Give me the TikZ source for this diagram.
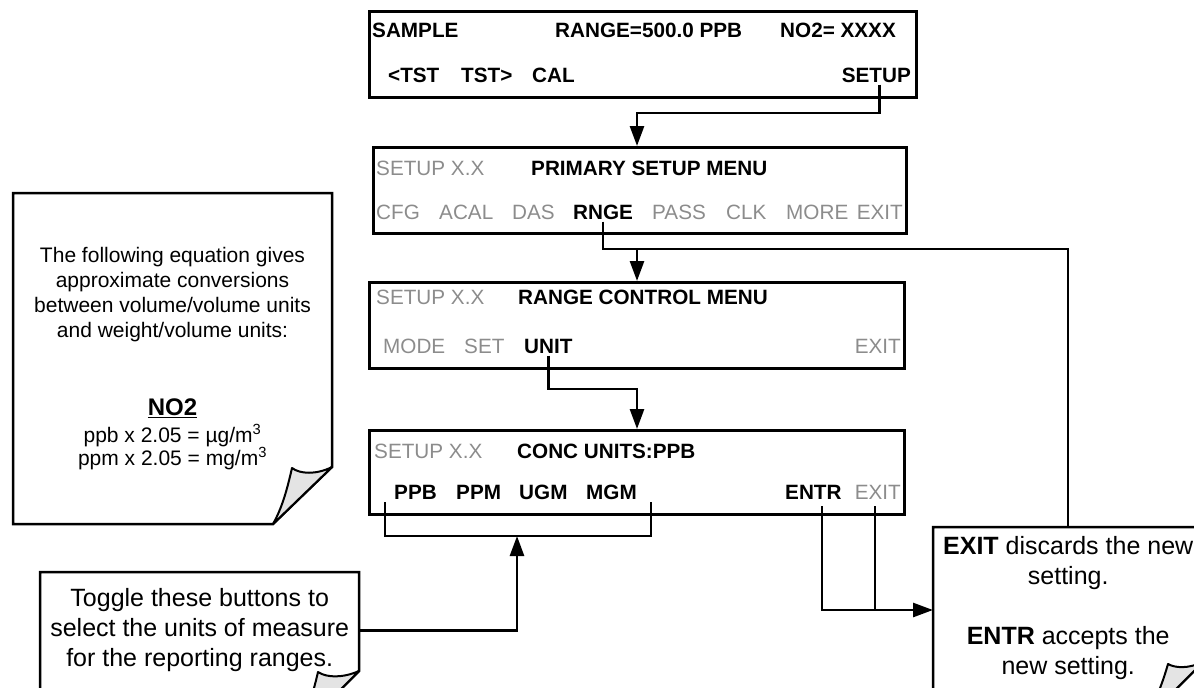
\documentclass[tikz,border=0pt]{standalone}
\usepackage{fontspec}
\setmainfont{Liberation Sans}
\usetikzlibrary{arrows.meta}
\definecolor{lcdgray}{RGB}{140,140,140}
\definecolor{flapgray}{RGB}{228,228,228}
\newcommand{\boxfs}{\fontsize{20.7}{24}\selectfont}
\newcommand{\notefs}{\fontsize{21}{25}\selectfont}
\newcommand{\smallnotefs}{\fontsize{21}{23}\selectfont}
\newcommand{\headfs}{\fontsize{24}{28}\selectfont}
\newcommand{\bigfs}{\fontsize{25}{30}\selectfont}
\begin{document}
\begin{tikzpicture}[x=1pt,y=-1pt,
  lcd/.style={draw, line width=2.7pt, inner sep=0pt, anchor=north west},
  bt/.style={font=\boxfs\bfseries, inner sep=0pt, anchor=west, text height=15pt, text depth=0pt},
  gt/.style={font=\boxfs, text=lcdgray, inner sep=0pt, anchor=west, text height=15pt, text depth=0pt},
  wire/.style={line width=2.7pt},
  arr/.style={wire, -{Triangle[length=20pt,width=14pt]}},
  note/.style={draw, line width=2.5pt, fill=white, line join=miter},
  flap/.style={draw, line width=2pt, fill=flapgray, line join=round},
  holder/.style={inner sep=0pt, anchor=north west},
]
\path[use as bounding box, clip] (0,0) rectangle (1194,688);

% ---- note outlines ----
\draw[note] (13,193) -- (332,193) -- (332,467) -- (273,524) -- (13,524) -- cycle;
\draw[flap] (332,467) .. controls (316,475) and (300,474) .. (292,468)
            .. controls (287,490) and (282,508) .. (273,524) -- cycle;
\draw[note] (40,572) -- (359,572) -- (359,671) -- (300,730) -- (40,730) -- cycle;
\draw[flap] (359,671) .. controls (343,678) and (327,678) .. (318,672)
            .. controls (313,694) and (307,712) .. (300,730) -- cycle;
\draw[note] (933,527) -- (1203,527) -- (1203,662) -- (1145,720) -- (933,720) -- cycle;
\draw[flap] (1203,662) .. controls (1188,669) and (1175,668) .. (1168,664)
            .. controls (1162,685) and (1155,702) .. (1145,720) -- cycle;

% ---- note texts ----
\node[font=\notefs, align=center, inner sep=0pt] (t1) at (172.5,294.5)
  {The following equation gives\\approximate conversions\\between volume/volume units\\and weight/volume units:};
\node[font=\headfs\bfseries, inner sep=0pt] (t2) at (172.5,408) {\underline{NO2}};
\node[font=\smallnotefs, align=center, inner sep=0pt] (t3) at (172.5,447)
  {ppb x 2.05 = µg/m\textsuperscript{3}\\ppm x 2.05 = mg/m\textsuperscript{3}};
\node[holder, font=\bigfs, align=center, minimum width=319pt, minimum height=116pt] (N2) at (40,572)
  {Toggle these buttons to\\select the units of measure\\for the reporting ranges.};
\node[holder, font=\bigfs, align=center, minimum width=270pt, minimum height=162pt] (N3) at (933,527)
  {\textbf{EXIT} discards the new\\setting.\\[30pt]\textbf{ENTR} accepts the\\new setting.};

% ---- LCD boxes ----
\node[lcd, minimum width=547pt, minimum height=86pt] (B1) at (368,10) {};
\node[lcd, minimum width=533pt, minimum height=86pt] (B2) at (372,146) {};
\node[lcd, minimum width=535pt, minimum height=86pt] (B3) at (368,281) {};
\node[lcd, minimum width=535pt, minimum height=84pt] (B4) at (368,429) {};

% box 1
\node[bt] (s1a) at (372,30) {SAMPLE};
\node[bt] (s1b) at (555,30) {RANGE=500.0 PPB};
\node[bt] (s1c) at (780,30) {NO2= XXXX};
\node[bt] (s1d) at (388,75) {<TST};
\node[bt] (s1e) at (461,75) {TST>};
\node[bt] (s1f) at (532,75) {CAL};
\node[bt, anchor=east] (tSetup) at (911,75) {SETUP};

% box 2
\node[gt] (s2a) at (376,168) {SETUP X.X};
\node[bt] (s2b) at (531,168) {PRIMARY SETUP MENU};
\node[gt] (s2c) at (376,212) {CFG};
\node[gt] (s2d) at (439,212) {ACAL};
\node[gt] (s2e) at (512,212) {DAS};
\node[bt] (tRnge) at (573,212) {RNGE};
\node[gt] (s2f) at (652,212) {PASS};
\node[gt] (s2g) at (726,212) {CLK};
\node[gt] (s2h) at (786,212) {MORE};
\node[gt, anchor=east] (s2i) at (903,212) {EXIT};

% box 3
\node[gt] (s3a) at (376,297) {SETUP X.X};
\node[bt] (s3b) at (518,297) {RANGE CONTROL MENU};
\node[gt] (s3c) at (383,346) {MODE};
\node[gt] (s3d) at (464,346) {SET};
\node[bt] (tUnit) at (524,346) {UNIT};
\node[gt, anchor=east] (s3e) at (901,346) {EXIT};

% box 4
\node[gt] (s4a) at (374,451) {SETUP X.X};
\node[bt] (s4b) at (517,451) {CONC UNITS:PPB};
\node[bt] (s4c) at (394,492) {PPB};
\node[bt] (s4d) at (456,492) {PPM};
\node[bt] (s4e) at (519,492) {UGM};
\node[bt] (s4f) at (586,492) {MGM};
\node[bt] (tEntr) at (785,492) {ENTR};
\node[gt, anchor=east] (tExit) at (901,492) {EXIT};

% ---- connectors ----
\coordinate (j1) at (637,113);
\draw[arr] ([xshift=3pt,yshift=-2pt]tSetup.south) |- (j1) -- (j1 |- B2.north);

\coordinate (j2) at (637,249);
\coordinate (j3) at (1068,249);
\draw[wire] ([yshift=-2pt]tRnge.south) |- (j3) -- (j3 |- N3.north);
\draw[arr] (j2) -- (j2 |- B3.north);

\coordinate (j4) at (637,389);
\draw[arr] ([yshift=-2pt]tUnit.south) |- (j4) -- (j4 |- B4.north);

\coordinate (k1) at (385,502);
\coordinate (k2) at (651,502);
\coordinate (k3) at (517,536);
\draw[wire] (k1) |- (k3) -| (k2);
\draw[arr] (N2.east) -| (k3);

\coordinate (e0) at (822,506);
\coordinate (x0) at (875,506);
\coordinate (e1) at (875,610);
\draw[wire] (e0) |- (e1);
\draw[arr] (x0) -- (e1) -- (e1 -| N3.west);
\end{tikzpicture}
\end{document}
